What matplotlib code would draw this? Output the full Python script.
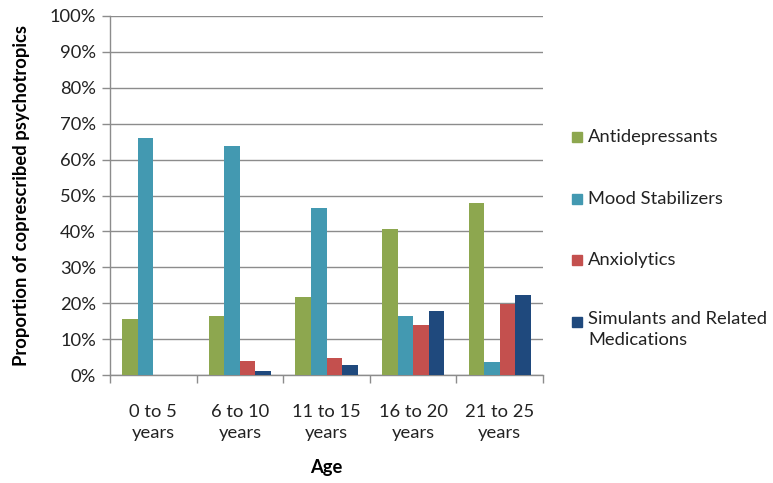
import matplotlib
matplotlib.use("Agg")
import matplotlib.pyplot as plt
import numpy as np
from matplotlib.patches import Rectangle

categories = ["0 to 5\nyears", "6 to 10\nyears", "11 to 15\nyears", "16 to 20\nyears", "21 to 25\nyears"]
series_names = ["Antidepressants", "Mood Stabilizers", "Anxiolytics", "Simulants and Related\nMedications"]
antidepressants = [15.5, 16.4, 21.8, 40.7, 48.0]
mood_stabilizers = [65.9, 63.9, 46.5, 16.4, 3.7]
anxiolytics = [0.0, 4.0, 4.8, 14.0, 19.8]
stimulants = [0.0, 1.1, 2.8, 17.8, 22.4]
colors = ["#8DA74F", "#4399B1", "#C4504E", "#1F497D"]

plt.rcParams['font.family'] = ['Lato', 'DejaVu Sans']

fig = plt.figure(figsize=(7.73, 4.83), dpi=100)
W, H = 773, 483
ax = fig.add_axes([110 / W, 1 - 375 / H, (543 - 110) / W, (375 - 16) / H])

data = [antidepressants, mood_stabilizers, anxiolytics, stimulants]
x = np.arange(len(categories))
bw = 0.18
for i, (vals, c) in enumerate(zip(data, colors)):
    ax.bar(x + (i - 1.5) * bw, vals, width=bw, color=c, zorder=3, linewidth=0)

fs = 13.2
ax.set_xlim(-0.5, len(categories) - 0.5)
ax.set_ylim(0, 100)
ax.set_yticks(np.arange(0, 101, 10))
ax.set_yticklabels([f"{v}%" for v in range(0, 101, 10)], fontsize=fs, color="#222222")
ax.yaxis.grid(True, color="#8c8c8c", linewidth=1.0, zorder=0)
ax.set_axisbelow(True)

ax.set_xticks(x)
ax.set_xticklabels(categories, fontsize=fs, color="#222222", linespacing=1.4)
ax.tick_params(axis='x', length=0, pad=21)
ax.set_xticks(np.arange(-0.5, len(categories), 1), minor=True)
ax.tick_params(axis='x', which='minor', length=6, color="#8c8c8c", width=1.0, direction='out')
ax.tick_params(axis='y', length=6, color="#8c8c8c", width=1.0, direction='out', pad=4)

for s in ['top', 'right']:
    ax.spines[s].set_visible(False)
for s in ['left', 'bottom']:
    ax.spines[s].set_color("#8c8c8c")
    ax.spines[s].set_linewidth(1.0)

ax.set_ylabel("Proportion of coprescribed psychotropics", fontsize=13.2, fontweight='bold', labelpad=14)
ax.set_xlabel("Age", fontsize=13.2, fontweight='bold', labelpad=13)

# legend
leg_y = [137, 199, 260, 322]
for name, c, yy in zip(series_names, colors, leg_y):
    fig.patches.append(Rectangle((572 / W, 1 - (yy + 5) / H), 10 / W, 10 / H,
                                 transform=fig.transFigure, color=c, figure=fig))
    if '\n' in name:
        fig.text(588 / W, 1 - (yy - 11) / H, name, fontsize=fs, va='top', ha='left',
                 color="#222222", linespacing=1.4)
    else:
        fig.text(588 / W, 1 - yy / H, name, fontsize=fs, va='center', ha='left',
                 color="#222222")

fig.savefig("out.png", dpi=100)
